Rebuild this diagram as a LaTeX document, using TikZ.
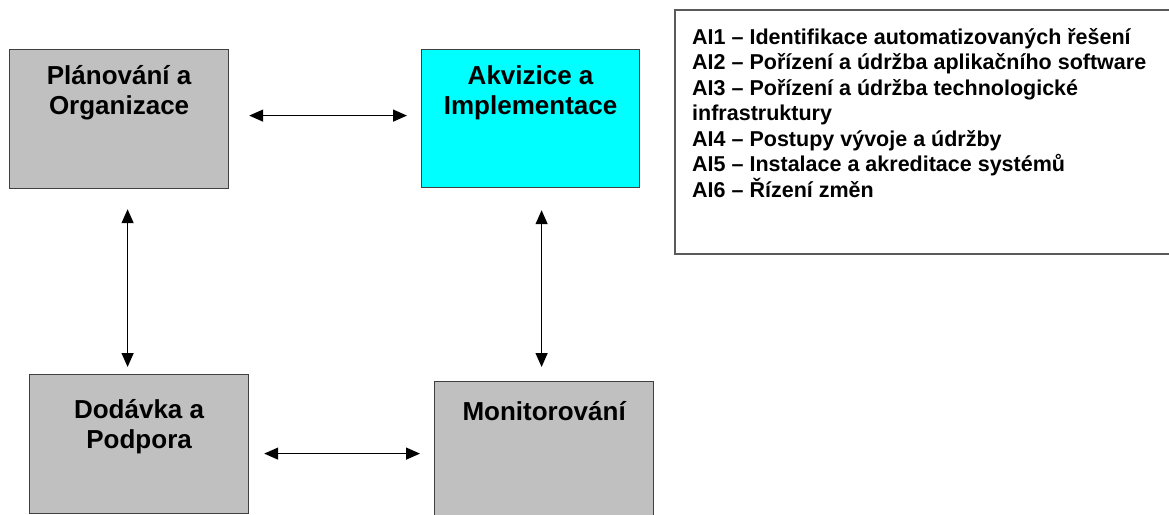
\documentclass[tikz,border=0pt]{standalone}
\usepackage{fontspec}
\setmainfont{Liberation Sans}
\usetikzlibrary{arrows.meta}
\definecolor{boxgray}{HTML}{C0C0C0}
\definecolor{boxcyan}{HTML}{00FFFF}
\definecolor{edgegray}{HTML}{404040}
\definecolor{listedge}{HTML}{5A5A5A}
\begin{document}
\begin{tikzpicture}[x=1pt,y=-1pt,
  procbox/.style={draw=edgegray,line width=1.2pt,fill=boxgray,
    minimum width=219pt,minimum height=139pt,anchor=north west,inner sep=0pt},
  boxtitle/.style={anchor=north,inner sep=0pt,align=center,
    font=\fontsize{26pt}{30pt}\selectfont\bfseries},
  twoway/.style={line width=1.4pt,{Triangle[length=14pt,width=12pt]}-{Triangle[length=14pt,width=12pt]}}
]
\useasboundingbox (0,0) rectangle (1169,514);
\clip (0,0) rectangle (1169,514);

% the four process domains
\node[procbox] (po) at (9,49) {};
\node[procbox,fill=boxcyan,minimum width=218pt,minimum height=138pt] (ai) at (421,49) {};
\node[procbox] (dp) at (29,374) {};
\node[procbox,minimum height=150pt] (mon) at (434,381) {};

\node[boxtitle] (poT) at ([yshift=-16pt]po.north) {Plánování a\\Organizace};
\node[boxtitle] (aiT) at ([yshift=-16pt]ai.north) {Akvizice a\\Implementace};
\node[boxtitle] (dpT) at ([yshift=-25pt]dp.north) {Dodávka a\\Podpora};
\node[boxtitle] (monT) at ([yshift=-20pt]mon.north) {Monitorování};

% two-way links between the domains
\draw[twoway,shorten <=20pt,shorten >=14pt] ([yshift=3.5pt]po.east) -- ([yshift=3.5pt]po.east -| ai.west);
\draw[twoway,shorten <=15pt,shorten >=14pt] ([yshift=-9.5pt]dp.east) -- ([yshift=-9.5pt]dp.east -| mon.west);
\draw[twoway,shorten <=20pt,shorten >=7pt] ([xshift=8.5pt]po.south) -- ([xshift=8.5pt]po.south |- dp.north);
\draw[twoway,shorten <=22pt,shorten >=14pt] ([xshift=11pt]ai.south) -- ([xshift=11pt]ai.south |- mon.north);

% list of the AI processes
\node[draw=listedge,line width=1.5pt,anchor=north west,minimum width=510pt,
  minimum height=244pt,inner sep=0pt] (list) at (674,9) {};
\node[anchor=north west,inner sep=0pt,align=left,
  font=\fontsize{21.5pt}{25.5pt}\selectfont\bfseries] (listT) at (692,28)
  {AI1 – Identifikace automatizovaných řešení\\
   AI2 – Pořízení a údržba aplikačního software\\
   AI3 – Pořízení a údržba technologické\\
   infrastruktury\\
   AI4 – Postupy vývoje a údržby\\
   AI5 – Instalace a akreditace systémů\\
   AI6 – Řízení změn};
\end{tikzpicture}
\end{document}
